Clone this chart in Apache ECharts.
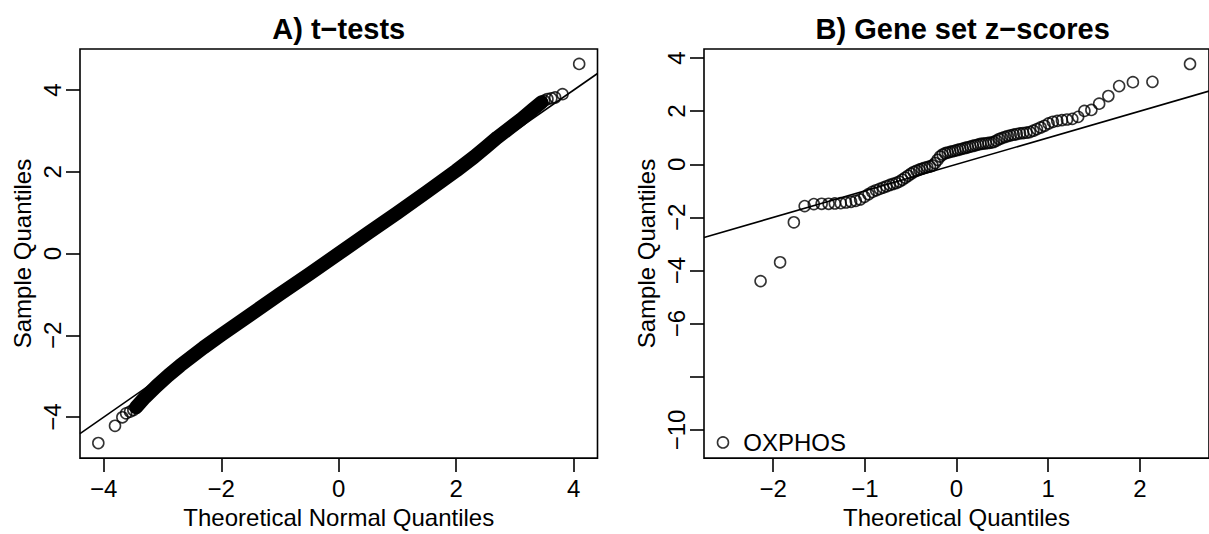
<!DOCTYPE html>
<html><head><meta charset="utf-8">
<script src="https://cdn.jsdelivr.net/npm/echarts@6/dist/echarts.min.js"></script>
<style>html,body{margin:0;padding:0;background:#fff}#c{width:1209px;height:534px}</style>
</head><body><div id="c"></div>
<script>
// ---------- Panel A: t-tests ----------
const tTailTheo   = [-4.093, -3.809, -3.684, -3.620, -3.553, -3.497, 3.497, 3.553, 3.620, 3.684, 3.809, 4.093];
const tTailSample = [-4.637, -4.215, -4.006, -3.910, -3.868, -3.827, 3.740, 3.780, 3.800, 3.820, 3.900, 4.640];
// centre of the dense band of overlapping points
const tBandTheo   = [-3.45, -3.30, -3.10, -2.90, -2.70, -2.50, -2.30, -2.00, -1.50, -1.00, -0.50, 0.00, 0.50, 1.00, 1.50, 2.00, 2.30, 2.50, 2.70, 2.90, 3.10, 3.30, 3.45];
const tBandSample = [-3.76, -3.52, -3.24, -2.98, -2.74, -2.52, -2.30, -1.99, -1.49, -0.99, -0.50, 0.00, 0.50, 1.00, 1.51, 2.03, 2.36, 2.60, 2.84, 3.06, 3.28, 3.52, 3.70];
const tXTicks = [-4, -2, 0, 2, 4];
const tYTicks = [-4, -2, 0, 2, 4];

// ---------- Panel B: gene set z-scores ----------
const zTheoretical = [-2.547,-2.137,-1.924,-1.774,-1.656,-1.556,-1.471,-1.395,-1.327,-1.263,-1.205,-1.150,-1.099,-1.051,-1.004,-0.960,-0.918,-0.877,-0.838,-0.800,-0.763,-0.727,-0.692,-0.657,-0.624,-0.591,-0.559,-0.527,-0.496,-0.466,-0.436,-0.406,-0.377,-0.348,-0.319,-0.290,-0.262,-0.234,-0.206,-0.178,-0.151,-0.123,-0.096,-0.068,-0.041,-0.014,
  0.014,0.041,0.068,0.096,0.123,0.151,0.178,0.206,0.234,0.262,0.290,0.319,0.348,0.377,0.406,0.436,0.466,0.496,0.527,0.559,0.591,0.624,0.657,0.692,0.727,0.763,0.800,0.838,0.877,0.918,0.960,1.004,1.051,1.099,1.150,1.205,1.263,1.327,1.395,1.471,1.556,1.656,1.774,1.924,2.137,2.547];
const zScores = [-10.47,-4.398,-3.689,-2.184,-1.574,-1.499,-1.487,-1.487,-1.474,-1.462,-1.437,-1.412,-1.375,-1.325,-1.226,-1.126,-1.039,-0.977,-0.927,-0.877,-0.828,-0.778,-0.741,-0.703,-0.653,-0.579,-0.504,-0.429,-0.355,-0.292,-0.243,-0.205,-0.168,-0.131,-0.106,-0.081,-0.044,0.044,0.168,0.292,0.367,0.417,0.442,0.467,0.491,0.516,
  0.541,0.566,0.591,0.616,0.641,0.666,0.691,0.715,0.740,0.765,0.778,0.790,0.803,0.815,0.840,0.890,0.952,0.989,1.027,1.064,1.089,1.113,1.138,1.163,1.176,1.188,1.213,1.263,1.325,1.387,1.450,1.537,1.599,1.636,1.661,1.686,1.711,1.785,2.010,2.047,2.283,2.569,2.943,3.092,3.104,3.776];
const zLabels = {0: 'OXPHOS'};
const zXTicks = [-2, -1, 0, 1, 2];
const zYTicks = [-10, -8, -6, -4, -2, 0, 2, 4];
const zYTickLabels = [-10, -6, -4, -2, 0, 2, 4];

const titles = ['A) t\u2212tests', 'B) Gene set z\u2212scores'];
const xNames = ['Theoretical Normal Quantiles', 'Theoretical Quantiles'];
const yName = 'Sample Quantiles';

// ---------- styling ----------
const FONT = '"Liberation Sans", Arial, Helvetica, sans-serif';
const FS = 24;
const fmt = v => String(v).replace('-', '\u2212');
const pairs = (xs, ys) => xs.map((x, i) => [x, ys[i]]);

function xAxis(idx, min, max, ticks, name) {
  return {
    type: 'value', gridIndex: idx, min, max, name, nameLocation: 'middle', nameGap: 42,
    nameTextStyle: {fontSize: FS, fontFamily: FONT, color: '#000'},
    axisLine: {show: false, onZero: false},
    axisTick: {show: true, inside: false, length: 14, customValues: ticks, lineStyle: {color: '#000', width: 1.6}},
    axisLabel: {show: true, customValues: ticks, formatter: fmt, fontSize: FS, fontFamily: FONT, color: '#000', margin: 18},
    splitLine: {show: false}
  };
}
function yAxis(idx, min, max, ticks, labels, name) {
  return {
    type: 'value', gridIndex: idx, min, max, name, nameLocation: 'middle', nameGap: 46,
    nameTextStyle: {fontSize: FS, fontFamily: FONT, color: '#000'},
    axisLine: {show: false, onZero: false},
    axisTick: {show: true, inside: false, length: 14, customValues: ticks, lineStyle: {color: '#000', width: 1.6}},
    axisLabel: {show: true, customValues: labels, formatter: fmt, rotate: 90, fontSize: FS, fontFamily: FONT, color: '#000', margin: 16},
    splitLine: {show: false}
  };
}
const pointStyle = {color: 'rgba(0,0,0,0)', borderColor: '#000', borderWidth: 1.6};

const xA = [-4.405, 4.405], yA = [-5.005, 5.005];
const xB = [-2.754, 2.754], yB = [-11.06, 4.34];

const chart = echarts.init(document.getElementById('c'), null, {renderer: 'svg'});
chart.setOption({
  animation: false,
  backgroundColor: '#fff',
  grid: [
    {left: 80, top: 49, width: 517.5, height: 413, show: true, borderColor: '#000', borderWidth: 1.6, containLabel: false},
    {left: 704, top: 49, width: 517.4, height: 413, show: true, borderColor: '#000', borderWidth: 1.6, containLabel: false}
  ],
  xAxis: [xAxis(0, xA[0], xA[1], tXTicks, xNames[0]), xAxis(1, xB[0], xB[1], zXTicks, xNames[1])],
  yAxis: [yAxis(0, yA[0], yA[1], tYTicks, tYTicks, yName), yAxis(1, yB[0], yB[1], zYTicks, zYTickLabels, yName)],
  graphic: [
    {type: 'text', x: 338.7, y: 29, style: {text: titles[0], fontSize: 29, fontWeight: 'bold', fontFamily: FONT, fill: '#000', align: 'center', verticalAlign: 'middle'}},
    {type: 'text', x: 962.7, y: 29, style: {text: titles[1], fontSize: 29, fontWeight: 'bold', fontFamily: FONT, fill: '#000', align: 'center', verticalAlign: 'middle'}}
  ],
  series: [
    {type: 'line', xAxisIndex: 0, yAxisIndex: 0, data: pairs(tBandTheo, tBandSample), showSymbol: false, silent: true,
      lineStyle: {color: '#000', width: 14, cap: 'round', join: 'round'}},
    {type: 'scatter', xAxisIndex: 0, yAxisIndex: 0, data: pairs(tTailTheo, tTailSample).concat(pairs(tBandTheo, tBandSample)),
      symbol: 'circle', symbolSize: 11, itemStyle: pointStyle, silent: true},
    {type: 'line', xAxisIndex: 0, yAxisIndex: 0, data: [[xA[0], xA[0]], [xA[1], xA[1]]], showSymbol: false, silent: true,
      lineStyle: {color: '#000', width: 1.6}},
    {type: 'scatter', xAxisIndex: 1, yAxisIndex: 1,
      data: pairs(zTheoretical, zScores).map((p, i) => zLabels[i] ? {value: p, label: {show: true, formatter: zLabels[i], position: 'right', distance: 14, fontSize: FS, fontFamily: FONT, color: '#000', opacity: 1, textBorderWidth: 0}} : p),
      symbol: 'circle', symbolSize: 11, itemStyle: pointStyle, silent: true},
    {type: 'line', xAxisIndex: 1, yAxisIndex: 1, data: [[xB[0], xB[0]], [xB[1], xB[1]]], showSymbol: false, silent: true,
      lineStyle: {color: '#000', width: 1.6}}
  ]
});
</script></body></html>
